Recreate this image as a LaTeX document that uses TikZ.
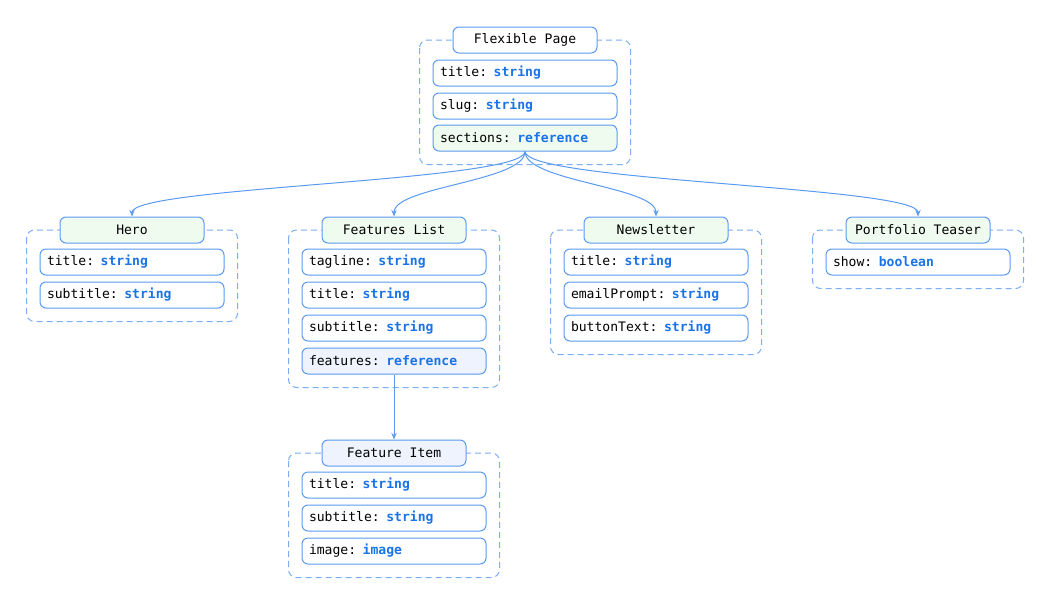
\documentclass[tikz,border=0pt]{standalone}
\usepackage{fontspec}
\setmonofont{DejaVu Sans Mono}
\usepackage{tikz}
\usepackage{xcolor}
\usetikzlibrary{arrows.meta,calc}

\definecolor{lineblue}{HTML}{5A9AF0}
\definecolor{typeblue}{HTML}{1A73E8}
\definecolor{greenfill}{HTML}{F0FBF0}
\definecolor{bluefill}{HTML}{EEF3FD}
\newcommand{\ftype}[1]{\textcolor{typeblue}{\bfseries #1}}

\begin{document}
\begin{tikzpicture}[x=0.75pt, y=-0.75pt,
  every node/.style={font=\ttfamily\fontsize{9.8}{12}\selectfont},
  head/.style={draw=lineblue, line width=0.75pt, rounded corners=4.5pt, fill=white,
    minimum width=108pt, minimum height=19.5pt, inner sep=0pt},
  field/.style={draw=lineblue, line width=0.75pt, rounded corners=4.5pt, fill=white,
    text width=127.5pt, inner xsep=5.25pt, minimum height=19.5pt, inner ysep=0pt, align=left},
  groupbox/.style={draw=lineblue!80, dashed, dash pattern=on 4.5pt off 3pt, line width=0.75pt, rounded corners=6pt},
  link/.style={draw=lineblue, line width=0.75pt, -{Stealth[length=5pt,width=4pt]}}]
\useasboundingbox (0,0) rectangle (1050,604);

% Fields
\node[field] (fptitle) at (525,73) {title: \ftype{string}};
\node[field] (fpslug) at (525,106) {slug: \ftype{string}};
\node[field, fill=greenfill] (fpsec) at (525,138) {sections: \ftype{reference}};

\node[field] (hrtitle) at (132,262) {title: \ftype{string}};
\node[field] (hrsub) at (132,295) {subtitle: \ftype{string}};

\node[field] (fltag) at (394,262) {tagline: \ftype{string}};
\node[field] (fltitle) at (394,295) {title: \ftype{string}};
\node[field] (flsub) at (394,328) {subtitle: \ftype{string}};
\node[field, fill=bluefill] (flfeat) at (394,361) {features: \ftype{reference}};

\node[field] (nltitle) at (656,262) {title: \ftype{string}};
\node[field] (nlmail) at (656,295) {emailPrompt: \ftype{string}};
\node[field] (nlbtn) at (656,328) {buttonText: \ftype{string}};

\node[field] (ptshow) at (918,262) {show: \ftype{boolean}};

\node[field] (fititle) at (394,485) {title: \ftype{string}};
\node[field] (fisub) at (394,518) {subtitle: \ftype{string}};
\node[field] (fiimg) at (394,551) {image: \ftype{image}};

% Groups
\draw[groupbox] (525,40 -| fpsec.west) ++(-13,0) rectangle ($(fpsec.south east)+(13,13)$);
\draw[groupbox] (132,230 -| hrsub.west) ++(-13,0) rectangle ($(hrsub.south east)+(13,13)$);
\draw[groupbox] (394,230 -| flfeat.west) ++(-13,0) rectangle ($(flfeat.south east)+(13,13)$);
\draw[groupbox] (656,230 -| nlbtn.west) ++(-13,0) rectangle ($(nlbtn.south east)+(13,13)$);
\draw[groupbox] (918,230 -| ptshow.west) ++(-13,0) rectangle ($(ptshow.south east)+(13,13)$);
\draw[groupbox] (394,453 -| fiimg.west) ++(-13,0) rectangle ($(fiimg.south east)+(13,13)$);

% Headers
\node[head] (page) at (525,40) {Flexible Page};
\node[head, fill=greenfill] (hero) at (132,230) {Hero};
\node[head, fill=greenfill] (flist) at (394,230) {Features List};
\node[head, fill=greenfill] (news) at (656,230) {Newsletter};
\node[head, fill=greenfill] (teaser) at (918,230) {Portfolio Teaser};
\node[head, fill=bluefill] (fitem) at (394,453) {Feature Item};

% References
\draw[link] (fpsec.south) .. controls +(0,30) and +(0,-30) .. (hero.north);
\draw[link] (fpsec.south) .. controls +(0,30) and +(0,-30) .. (flist.north);
\draw[link] (fpsec.south) .. controls +(0,30) and +(0,-30) .. (news.north);
\draw[link] (fpsec.south) .. controls +(0,30) and +(0,-30) .. (teaser.north);
\draw[link] (flfeat.south) -- (fitem.north);
\end{tikzpicture}
\end{document}
